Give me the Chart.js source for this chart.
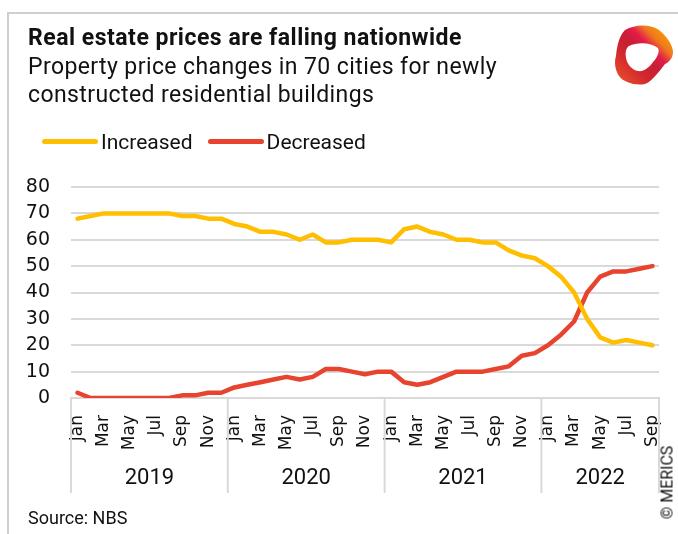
<!DOCTYPE html>
<html>
<head>
<meta charset="utf-8">
<script src="https://cdn.jsdelivr.net/npm/chart.js@4"></script>
<style>
  html, body { margin:0; padding:0; background:#fff; }
  body { width:678px; height:534px; position:relative; overflow:hidden; font-family: Roboto, "Noto Sans", sans-serif; color:#111; }
  #frame { position:absolute; left:7px; top:12px; right:-4px; bottom:-4px; border-top:2px solid #cfcfcf; border-left:2px solid #cfcfcf; }
  #title { position:absolute; left:28px; top:24px; font-size:23px; font-weight:bold; line-height:28px; letter-spacing:0.5px; white-space:nowrap; }
  #subtitle { position:absolute; left:28px; top:53px; font-size:23px; line-height:28px; letter-spacing:0.4px; white-space:nowrap; }
  #legend { position:absolute; left:42px; top:130px; font-size:21px; line-height:24px; white-space:nowrap; }
  #legend .item { display:inline-block; margin-right:15px; }
  #legend .sw { display:inline-block; width:56px; height:5px; border-radius:3px; vertical-align:middle; margin-right:3px; position:relative; top:-2px; }
  #source { position:absolute; left:28px; top:507px; font-size:18px; white-space:nowrap; }
  #copy { position:absolute; left:621px; top:473px; width:92px; font-size:16px; transform:rotate(-90deg); transform-origin:center; text-align:center; white-space:nowrap; }
  canvas { position:absolute; left:0; top:0; }
  #logo { position:absolute; left:605px; top:18px; }
</style>
</head>
<body>
<div id="frame"></div>
<canvas id="c" width="678" height="534"></canvas>
<div id="title">Real estate prices are falling nationwide</div>
<div id="subtitle">Property price changes in 70 cities for newly<br>constructed residential buildings</div>
<div id="legend"><span class="item"><span class="sw" style="background:#FFBE00"></span>Increased</span><span class="item"><span class="sw" style="background:#E8432E"></span>Decreased</span></div>
<div id="source">Source: NBS</div>
<div id="copy">© MERICS</div>
<svg id="logo" width="73" height="72" viewBox="0 0 73 72">
  <defs>
    <linearGradient id="g" x1="0.1" y1="0.9" x2="0.9" y2="0.1">
      <stop offset="0" stop-color="#e5482b"/>
      <stop offset="0.3" stop-color="#d0262e"/>
      <stop offset="0.5" stop-color="#c81f34"/>
      <stop offset="0.65" stop-color="#e31b4c"/>
      <stop offset="0.8" stop-color="#f0781f"/>
      <stop offset="1" stop-color="#f5a000"/>
    </linearGradient>
  </defs>
  <path d="M20 12 C30 6 46 6 54 12 C62 18 68 28 68 34 C68 40 64 44 60 46 C54 54 46 64 40 66 C30 68 18 64 14 58 C10 52 9 44 11 38 C12 28 14 18 20 12 Z" fill="url(#g)"/>
  <path d="M24 28 C32 24 46 24 53 30 C55 34 52 40 48 44 C44 50 38 54 33 53 C27 52 22 46 21 40 C20 34 21 30 24 28 Z" fill="#fff"/>
</svg>
<script>
const years = ['2019', '2020', '2021', '2022'];
const monthNames = ['Jan','Feb','Mar','Apr','May','Jun','Jul','Aug','Sep','Oct','Nov','Dec'];
const categories = [];
years.forEach(y => monthNames.forEach(m => categories.push(m + ' ' + y)));
categories.length = 45; // Jan 2019 – Sep 2022

const increased = [68,69,70,70,70,70,70,70,69,69,68,68,
                   66,65,63,63,62,60,62,59,59,60,60,60,
                   59,64,65,63,62,60,60,59,59,56,54,53,
                   50,46,40,30,23,21,22,21,20];
const decreased = [2,0,0,0,0,0,0,0,1,1,2,2,
                   4,5,6,7,8,7,8,11,11,10,9,10,
                   10,6,5,6,8,10,10,10,11,12,16,17,
                   20,24,29,40,46,48,48,49,50];
const yTicks = [0,10,20,30,40,50,60,70,80];

const yearPlugin = {
  id: 'yearAxis',
  afterDraw(chart) {
    const ctx = chart.ctx, xs = chart.scales.x, area = chart.chartArea;
    const half = (xs.getPixelForValue(1) - xs.getPixelForValue(0)) / 2;
    const bounds = [];
    for (let i = 0; i < years.length; i++) {
      bounds.push(xs.getPixelForValue(i * 12) - half);
    }
    bounds.push(area.right);
    ctx.save();
    ctx.strokeStyle = '#d9d9d9';
    ctx.lineWidth = 2;
    bounds.forEach(x => {
      ctx.beginPath();
      ctx.moveTo(x, area.bottom);
      ctx.lineTo(x, area.bottom + 95);
      ctx.stroke();
    });
    ctx.fillStyle = '#111';
    ctx.font = '22px Roboto';
    ctx.textAlign = 'center';
    ctx.textBaseline = 'middle';
    for (let i = 0; i < years.length; i++) {
      ctx.fillText(years[i], (bounds[i] + bounds[i+1]) / 2, area.bottom + 80);
    }
    ctx.restore();
  }
};

new Chart(document.getElementById('c'), {
  type: 'line',
  data: {
    labels: categories,
    datasets: [
      { label: 'Increased', data: increased, borderColor: '#FFBE00', backgroundColor: '#FFBE00', borderWidth: 4.5, pointRadius: 0, tension: 0, borderJoinStyle: 'round', borderCapStyle: 'round' },
      { label: 'Decreased', data: decreased, borderColor: '#E8432E', backgroundColor: '#E8432E', borderWidth: 4.5, pointRadius: 0, tension: 0, borderJoinStyle: 'round', borderCapStyle: 'round' }
    ]
  },
  options: {
    responsive: false,
    animation: false,
    layout: { padding: { left: 0, top: 187, right: 19, bottom: 36 } },
    plugins: { legend: { display: false }, tooltip: { enabled: false }, title: { display: false } },
    scales: {
      x: {
        offset: true,
        grid: { display: false, offset: true },
        border: { display: true, color: '#d9d9d9', width: 2 },
        ticks: {
          autoSkip: false, maxRotation: 90, minRotation: 90, padding: 9,
          color: '#111', font: { family: 'DejaVu Sans', size: 17 },
          callback: (v, i) => (i % 2 === 0 ? categories[i].split(' ')[0] : '')
        },
        afterFit: s => { s.height = 100; s.paddingLeft = 0; s.paddingRight = 0; }
      },
      y: {
        min: 0, max: 80,
        afterBuildTicks: s => { s.ticks = yTicks.map(v => ({ value: v })); },
        grid: { color: '#d9d9d9', lineWidth: 2, drawTicks: false },
        border: { display: false },
        ticks: { padding: 21, color: '#111', font: { family: 'DejaVu Sans', size: 19 } },
        afterFit: s => { s.width = 71; s.paddingTop = 0; s.paddingBottom = 0; }
      }
    }
  },
  plugins: [yearPlugin]
});
</script>
</body>
</html>
